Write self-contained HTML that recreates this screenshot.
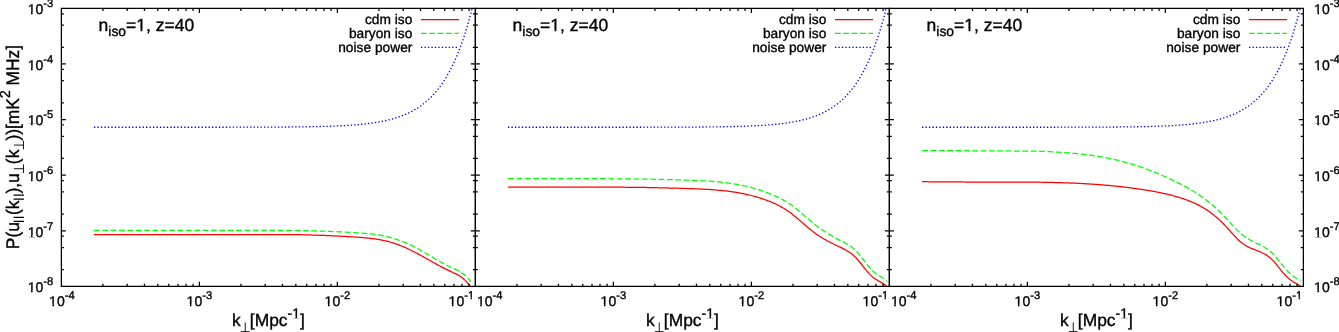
<!DOCTYPE html>
<html><head><meta charset="utf-8"><title>plot</title>
<style>html,body{margin:0;padding:0;background:#fff;overflow:hidden;}svg{display:block;will-change:transform;}text{font-family:"Liberation Sans",sans-serif;fill:#000;stroke:#000;stroke-width:0.35px;text-rendering:geometricPrecision;}</style>
</head><body>
<svg width="1339" height="332" viewBox="0 0 1339 332">
<rect width="1339" height="332" fill="#fff"/>
<clipPath id="c0"><rect x="61.37" y="8.4" width="414.00" height="277.96"/></clipPath>
<g clip-path="url(#c0)" fill="none" stroke-linejoin="round">
<path d="M93.90,234.60L94.90,234.60L95.90,234.60L96.90,234.60L97.90,234.60L98.90,234.60L99.90,234.60L100.90,234.60L101.90,234.60L102.90,234.60L103.90,234.60L104.90,234.60L105.90,234.60L106.90,234.60L107.90,234.60L108.90,234.60L109.90,234.60L110.90,234.60L111.90,234.60L112.90,234.60L113.90,234.60L114.90,234.60L115.90,234.60L116.90,234.60L117.90,234.60L118.90,234.60L119.90,234.60L120.90,234.60L121.90,234.60L122.90,234.60L123.90,234.60L124.90,234.60L125.90,234.60L126.90,234.60L127.90,234.60L128.90,234.60L129.90,234.60L130.90,234.60L131.90,234.60L132.90,234.60L133.90,234.60L134.90,234.60L135.90,234.60L136.90,234.60L137.90,234.60L138.90,234.60L139.90,234.60L140.90,234.60L141.90,234.60L142.90,234.60L143.90,234.60L144.90,234.60L145.90,234.60L146.90,234.60L147.90,234.60L148.90,234.60L149.90,234.60L150.90,234.60L151.90,234.60L152.90,234.60L153.90,234.60L154.90,234.60L155.90,234.60L156.90,234.60L157.90,234.60L158.90,234.60L159.90,234.60L160.90,234.60L161.90,234.60L162.90,234.60L163.90,234.60L164.90,234.60L165.90,234.60L166.90,234.60L167.90,234.60L168.90,234.60L169.90,234.60L170.90,234.60L171.90,234.60L172.90,234.60L173.90,234.60L174.90,234.60L175.90,234.60L176.90,234.60L177.90,234.60L178.90,234.60L179.90,234.60L180.90,234.60L181.90,234.60L182.90,234.60L183.90,234.60L184.90,234.60L185.90,234.60L186.90,234.60L187.90,234.60L188.90,234.60L189.90,234.60L190.90,234.60L191.90,234.60L192.90,234.60L193.90,234.60L194.90,234.60L195.90,234.60L196.90,234.60L197.90,234.60L198.90,234.60L199.90,234.60L200.90,234.60L201.90,234.60L202.90,234.60L203.90,234.60L204.90,234.60L205.90,234.60L206.90,234.60L207.90,234.60L208.90,234.60L209.90,234.60L210.90,234.60L211.90,234.60L212.90,234.60L213.90,234.60L214.90,234.60L215.90,234.60L216.90,234.60L217.90,234.60L218.90,234.60L219.90,234.60L220.90,234.60L221.90,234.60L222.90,234.60L223.90,234.60L224.90,234.61L225.90,234.61L226.90,234.61L227.90,234.61L228.90,234.61L229.90,234.61L230.90,234.61L231.90,234.61L232.90,234.61L233.90,234.61L234.90,234.61L235.90,234.61L236.90,234.61L237.90,234.61L238.90,234.61L239.90,234.61L240.90,234.61L241.90,234.62L242.90,234.62L243.90,234.62L244.90,234.62L245.90,234.62L246.90,234.62L247.90,234.62L248.90,234.62L249.90,234.62L250.90,234.62L251.90,234.63L252.90,234.63L253.90,234.63L254.90,234.63L255.90,234.63L256.90,234.63L257.90,234.63L258.90,234.63L259.90,234.64L260.90,234.64L261.90,234.64L262.90,234.64L263.90,234.64L264.90,234.64L265.90,234.64L266.90,234.65L267.90,234.65L268.90,234.65L269.90,234.65L270.90,234.65L271.90,234.65L272.90,234.66L273.90,234.66L274.90,234.66L275.90,234.66L276.90,234.66L277.90,234.66L278.90,234.67L279.90,234.67L280.90,234.67L281.90,234.67L282.90,234.68L283.90,234.68L284.90,234.68L285.90,234.68L286.90,234.68L287.90,234.69L288.90,234.69L289.90,234.69L290.90,234.69L291.90,234.70L292.90,234.70L293.90,234.70L294.90,234.70L295.90,234.71L296.90,234.71L297.90,234.71L298.90,234.72L299.90,234.72L300.90,234.72L301.90,234.73L302.90,234.75L303.90,234.76L304.90,234.79L305.90,234.81L306.90,234.84L307.90,234.87L308.90,234.90L309.90,234.93L310.90,234.97L311.90,235.01L312.90,235.04L313.90,235.08L314.90,235.12L315.90,235.15L316.90,235.19L317.90,235.22L318.90,235.26L319.90,235.29L320.90,235.33L321.90,235.37L322.90,235.40L323.90,235.44L324.90,235.48L325.90,235.52L326.90,235.56L327.90,235.61L328.90,235.65L329.90,235.69L330.90,235.74L331.90,235.78L332.90,235.83L333.90,235.87L334.90,235.92L335.90,235.97L336.90,236.01L337.90,236.06L338.90,236.11L339.90,236.16L340.90,236.22L341.90,236.27L342.90,236.32L343.90,236.38L344.90,236.43L345.90,236.49L346.90,236.55L347.90,236.61L348.90,236.67L349.90,236.73L350.90,236.79L351.90,236.85L352.90,236.91L353.90,236.97L354.90,237.04L355.90,237.11L356.90,237.17L357.90,237.24L358.90,237.31L359.90,237.38L360.90,237.46L361.90,237.54L362.90,237.62L363.90,237.70L364.90,237.79L365.90,237.88L366.90,237.98L367.90,238.08L368.90,238.19L369.90,238.30L370.90,238.41L371.90,238.54L372.90,238.66L373.90,238.80L374.90,238.94L375.90,239.08L376.90,239.24L377.90,239.40L378.90,239.56L379.90,239.74L380.90,239.92L381.90,240.12L382.90,240.32L383.90,240.53L384.90,240.74L385.90,240.97L386.90,241.21L387.90,241.46L388.90,241.72L389.90,241.99L390.90,242.27L391.90,242.56L392.90,242.86L393.90,243.17L394.90,243.50L395.90,243.84L396.90,244.19L397.90,244.55L398.90,244.92L399.90,245.31L400.90,245.71L401.90,246.11L402.90,246.53L403.90,246.96L404.90,247.40L405.90,247.85L406.90,248.30L407.90,248.77L408.90,249.25L409.90,249.73L410.90,250.22L411.90,250.72L412.90,251.22L413.90,251.74L414.90,252.26L415.90,252.78L416.90,253.31L417.90,253.85L418.90,254.39L419.90,254.93L420.90,255.48L421.90,256.03L422.90,256.58L423.90,257.14L424.90,257.70L425.90,258.26L426.90,258.82L427.90,259.39L428.90,259.95L429.90,260.51L430.90,261.08L431.90,261.64L432.90,262.20L433.90,262.76L434.90,263.32L435.90,263.87L436.90,264.42L437.90,264.97L438.90,265.51L439.90,266.05L440.90,266.59L441.90,267.12L442.90,267.64L443.90,268.16L444.90,268.68L445.90,269.18L446.90,269.68L447.90,270.17L448.90,270.65L449.90,271.13L450.90,271.59L451.90,272.05L452.90,272.51L453.90,272.96L454.90,273.43L455.90,273.92L456.90,274.42L457.90,274.96L458.90,275.53L459.90,276.15L460.90,276.82L461.90,277.54L462.90,278.32L463.90,279.17L464.90,280.10L465.90,281.10L466.90,282.20L467.90,283.39L468.90,284.69L469.90,286.10" stroke="#ff0000" stroke-width="1.25"/>
<path d="M93.90,230.30L94.90,230.30L95.90,230.30L96.90,230.30L97.90,230.30L98.90,230.30L99.90,230.30L100.90,230.30L101.90,230.30L102.90,230.30L103.90,230.30L104.90,230.30L105.90,230.30L106.90,230.30L107.90,230.30L108.90,230.30L109.90,230.30L110.90,230.30L111.90,230.30L112.90,230.30L113.90,230.30L114.90,230.30L115.90,230.30L116.90,230.30L117.90,230.30L118.90,230.30L119.90,230.30L120.90,230.30L121.90,230.30L122.90,230.30L123.90,230.30L124.90,230.30L125.90,230.30L126.90,230.30L127.90,230.30L128.90,230.30L129.90,230.30L130.90,230.31L131.90,230.31L132.90,230.31L133.90,230.31L134.90,230.31L135.90,230.31L136.90,230.31L137.90,230.31L138.90,230.31L139.90,230.31L140.90,230.31L141.90,230.31L142.90,230.31L143.90,230.31L144.90,230.31L145.90,230.31L146.90,230.31L147.90,230.31L148.90,230.31L149.90,230.31L150.90,230.31L151.90,230.31L152.90,230.31L153.90,230.31L154.90,230.31L155.90,230.31L156.90,230.31L157.90,230.31L158.90,230.32L159.90,230.32L160.90,230.32L161.90,230.32L162.90,230.32L163.90,230.32L164.90,230.32L165.90,230.32L166.90,230.32L167.90,230.32L168.90,230.32L169.90,230.32L170.90,230.32L171.90,230.32L172.90,230.32L173.90,230.32L174.90,230.32L175.90,230.32L176.90,230.32L177.90,230.32L178.90,230.33L179.90,230.33L180.90,230.33L181.90,230.33L182.90,230.33L183.90,230.33L184.90,230.33L185.90,230.33L186.90,230.33L187.90,230.33L188.90,230.33L189.90,230.33L190.90,230.33L191.90,230.33L192.90,230.33L193.90,230.33L194.90,230.33L195.90,230.33L196.90,230.34L197.90,230.34L198.90,230.34L199.90,230.34L200.90,230.34L201.90,230.34L202.90,230.34L203.90,230.34L204.90,230.34L205.90,230.34L206.90,230.34L207.90,230.34L208.90,230.34L209.90,230.34L210.90,230.34L211.90,230.34L212.90,230.35L213.90,230.35L214.90,230.35L215.90,230.35L216.90,230.35L217.90,230.35L218.90,230.35L219.90,230.35L220.90,230.35L221.90,230.35L222.90,230.35L223.90,230.35L224.90,230.35L225.90,230.36L226.90,230.36L227.90,230.36L228.90,230.36L229.90,230.36L230.90,230.36L231.90,230.36L232.90,230.36L233.90,230.36L234.90,230.36L235.90,230.37L236.90,230.37L237.90,230.37L238.90,230.37L239.90,230.37L240.90,230.37L241.90,230.37L242.90,230.37L243.90,230.38L244.90,230.38L245.90,230.38L246.90,230.38L247.90,230.38L248.90,230.38L249.90,230.38L250.90,230.39L251.90,230.39L252.90,230.39L253.90,230.39L254.90,230.39L255.90,230.40L256.90,230.40L257.90,230.40L258.90,230.40L259.90,230.40L260.90,230.41L261.90,230.41L262.90,230.41L263.90,230.41L264.90,230.41L265.90,230.42L266.90,230.42L267.90,230.42L268.90,230.42L269.90,230.43L270.90,230.43L271.90,230.43L272.90,230.43L273.90,230.44L274.90,230.44L275.90,230.44L276.90,230.45L277.90,230.45L278.90,230.45L279.90,230.45L280.90,230.46L281.90,230.46L282.90,230.46L283.90,230.47L284.90,230.47L285.90,230.47L286.90,230.48L287.90,230.48L288.90,230.48L289.90,230.49L290.90,230.49L291.90,230.50L292.90,230.50L293.90,230.50L294.90,230.51L295.90,230.51L296.90,230.52L297.90,230.52L298.90,230.53L299.90,230.53L300.90,230.54L301.90,230.55L302.90,230.56L303.90,230.58L304.90,230.60L305.90,230.62L306.90,230.65L307.90,230.67L308.90,230.70L309.90,230.73L310.90,230.77L311.90,230.80L312.90,230.83L313.90,230.87L314.90,230.90L315.90,230.93L316.90,230.97L317.90,231.00L318.90,231.03L319.90,231.06L320.90,231.10L321.90,231.13L322.90,231.16L323.90,231.20L324.90,231.24L325.90,231.27L326.90,231.31L327.90,231.35L328.90,231.39L329.90,231.43L330.90,231.47L331.90,231.51L332.90,231.55L333.90,231.59L334.90,231.64L335.90,231.68L336.90,231.72L337.90,231.77L338.90,231.82L339.90,231.86L340.90,231.91L341.90,231.96L342.90,232.01L343.90,232.06L344.90,232.11L345.90,232.16L346.90,232.21L347.90,232.27L348.90,232.32L349.90,232.38L350.90,232.43L351.90,232.49L352.90,232.55L353.90,232.60L354.90,232.66L355.90,232.72L356.90,232.78L357.90,232.85L358.90,232.91L359.90,232.98L360.90,233.05L361.90,233.12L362.90,233.20L363.90,233.28L364.90,233.36L365.90,233.44L366.90,233.53L367.90,233.63L368.90,233.73L369.90,233.83L370.90,233.94L371.90,234.06L372.90,234.18L373.90,234.31L374.90,234.44L375.90,234.58L376.90,234.73L377.90,234.88L378.90,235.04L379.90,235.21L380.90,235.39L381.90,235.58L382.90,235.77L383.90,235.98L384.90,236.19L385.90,236.41L386.90,236.65L387.90,236.89L388.90,237.14L389.90,237.41L390.90,237.68L391.90,237.97L392.90,238.26L393.90,238.57L394.90,238.88L395.90,239.21L396.90,239.54L397.90,239.88L398.90,240.23L399.90,240.59L400.90,240.96L401.90,241.34L402.90,241.73L403.90,242.12L404.90,242.53L405.90,242.95L406.90,243.37L407.90,243.81L408.90,244.26L409.90,244.72L410.90,245.19L411.90,245.67L412.90,246.16L413.90,246.67L414.90,247.18L415.90,247.70L416.90,248.23L417.90,248.77L418.90,249.32L419.90,249.87L420.90,250.43L421.90,251.00L422.90,251.57L423.90,252.14L424.90,252.72L425.90,253.30L426.90,253.89L427.90,254.48L428.90,255.07L429.90,255.66L430.90,256.25L431.90,256.84L432.90,257.43L433.90,258.02L434.90,258.60L435.90,259.19L436.90,259.77L437.90,260.35L438.90,260.92L439.90,261.49L440.90,262.05L441.90,262.60L442.90,263.15L443.90,263.70L444.90,264.23L445.90,264.76L446.90,265.27L447.90,265.78L448.90,266.28L449.90,266.76L450.90,267.24L451.90,267.70L452.90,268.16L453.90,268.61L454.90,269.07L455.90,269.55L456.90,270.04L457.90,270.55L458.90,271.09L459.90,271.66L460.90,272.28L461.90,272.93L462.90,273.64L463.90,274.41L464.90,275.24L465.90,276.14L466.90,277.11L467.90,278.17L468.90,279.30L469.90,280.53L470.70,281.59" stroke="#00ff00" stroke-width="1.25" stroke-dasharray="5.8 2.56"/>
<path d="M93.97,127.26L94.97,127.26L95.97,127.26L96.97,127.26L97.97,127.26L98.97,127.26L99.97,127.26L100.97,127.26L101.97,127.26L102.97,127.26L103.97,127.26L104.97,127.26L105.97,127.26L106.97,127.26L107.97,127.26L108.97,127.26L109.97,127.26L110.97,127.26L111.97,127.26L112.97,127.26L113.97,127.26L114.97,127.26L115.97,127.26L116.97,127.26L117.97,127.26L118.97,127.26L119.97,127.26L120.97,127.26L121.97,127.26L122.97,127.26L123.97,127.26L124.97,127.26L125.97,127.26L126.97,127.26L127.97,127.26L128.97,127.26L129.97,127.26L130.97,127.26L131.97,127.26L132.97,127.26L133.97,127.26L134.97,127.26L135.97,127.26L136.97,127.26L137.97,127.26L138.97,127.26L139.97,127.26L140.97,127.26L141.97,127.26L142.97,127.26L143.97,127.26L144.97,127.26L145.97,127.26L146.97,127.26L147.97,127.26L148.97,127.26L149.97,127.26L150.97,127.26L151.97,127.26L152.97,127.26L153.97,127.26L154.97,127.26L155.97,127.26L156.97,127.26L157.97,127.26L158.97,127.26L159.97,127.26L160.97,127.26L161.97,127.26L162.97,127.26L163.97,127.26L164.97,127.26L165.97,127.26L166.97,127.26L167.97,127.26L168.97,127.26L169.97,127.26L170.97,127.26L171.97,127.26L172.97,127.26L173.97,127.26L174.97,127.26L175.97,127.26L176.97,127.26L177.97,127.26L178.97,127.25L179.97,127.25L180.97,127.25L181.97,127.25L182.97,127.25L183.97,127.25L184.97,127.25L185.97,127.25L186.97,127.25L187.97,127.25L188.97,127.25L189.97,127.25L190.97,127.25L191.97,127.25L192.97,127.25L193.97,127.25L194.97,127.25L195.97,127.25L196.97,127.25L197.97,127.25L198.97,127.25L199.97,127.25L200.97,127.25L201.97,127.25L202.97,127.25L203.97,127.25L204.97,127.25L205.97,127.25L206.97,127.24L207.97,127.24L208.97,127.24L209.97,127.24L210.97,127.24L211.97,127.24L212.97,127.24L213.97,127.24L214.97,127.24L215.97,127.24L216.97,127.24L217.97,127.24L218.97,127.24L219.97,127.24L220.97,127.23L221.97,127.23L222.97,127.23L223.97,127.23L224.97,127.23L225.97,127.23L226.97,127.23L227.97,127.23L228.97,127.23L229.97,127.22L230.97,127.22L231.97,127.22L232.97,127.22L233.97,127.22L234.97,127.22L235.97,127.22L236.97,127.22L237.97,127.21L238.97,127.21L239.97,127.21L240.97,127.21L241.97,127.21L242.97,127.20L243.97,127.20L244.97,127.20L245.97,127.20L246.97,127.20L247.97,127.19L248.97,127.19L249.97,127.19L250.97,127.19L251.97,127.19L252.97,127.18L253.97,127.18L254.97,127.18L255.97,127.17L256.97,127.17L257.97,127.17L258.97,127.16L259.97,127.16L260.97,127.16L261.97,127.15L262.97,127.15L263.97,127.15L264.97,127.14L265.97,127.14L266.97,127.14L267.97,127.13L268.97,127.13L269.97,127.12L270.97,127.12L271.97,127.11L272.97,127.11L273.97,127.10L274.97,127.10L275.97,127.09L276.97,127.09L277.97,127.08L278.97,127.07L279.97,127.07L280.97,127.06L281.97,127.05L282.97,127.05L283.97,127.04L284.97,127.03L285.97,127.02L286.97,127.02L287.97,127.01L288.97,127.00L289.97,126.99L290.97,126.98L291.97,126.97L292.97,126.96L293.97,126.95L294.97,126.94L295.97,126.93L296.97,126.92L297.97,126.91L298.97,126.89L299.97,126.88L300.97,126.87L301.97,126.86L302.97,126.84L303.97,126.83L304.97,126.81L305.97,126.80L306.97,126.78L307.97,126.77L308.97,126.75L309.97,126.73L310.97,126.71L311.97,126.69L312.97,126.68L313.97,126.66L314.97,126.63L315.97,126.61L316.97,126.59L317.97,126.57L318.97,126.55L319.97,126.52L320.97,126.50L321.97,126.47L322.97,126.44L323.97,126.41L324.97,126.39L325.97,126.36L326.97,126.33L327.97,126.29L328.97,126.26L329.97,126.23L330.97,126.19L331.97,126.16L332.97,126.12L333.97,126.08L334.97,126.04L335.97,126.00L336.97,125.96L337.97,125.91L338.97,125.86L339.97,125.82L340.97,125.77L341.97,125.72L342.97,125.67L343.97,125.61L344.97,125.56L345.97,125.50L346.97,125.44L347.97,125.38L348.97,125.31L349.97,125.25L350.97,125.18L351.97,125.11L352.97,125.03L353.97,124.96L354.97,124.88L355.97,124.80L356.97,124.71L357.97,124.63L358.97,124.54L359.97,124.45L360.97,124.35L361.97,124.25L362.97,124.15L363.97,124.04L364.97,123.94L365.97,123.82L366.97,123.71L367.97,123.59L368.97,123.46L369.97,123.33L370.97,123.20L371.97,123.06L372.97,122.92L373.97,122.77L374.97,122.62L375.97,122.46L376.97,122.30L377.97,122.13L378.97,121.95L379.97,121.77L380.97,121.59L381.97,121.40L382.97,121.20L383.97,120.99L384.97,120.78L385.97,120.56L386.97,120.33L387.97,120.10L388.97,119.85L389.97,119.60L390.97,119.34L391.97,119.07L392.97,118.79L393.97,118.51L394.97,118.21L395.97,117.90L396.97,117.59L397.97,117.26L398.97,116.92L399.97,116.57L400.97,116.20L401.97,115.83L402.97,115.44L403.97,115.04L404.97,114.62L405.97,114.20L406.97,113.75L407.97,113.29L408.97,112.82L409.97,112.33L410.97,111.82L411.97,111.30L412.97,110.76L413.97,110.20L414.97,109.62L415.97,109.02L416.97,108.40L417.97,107.76L418.97,107.10L419.97,106.41L420.97,105.71L421.97,104.98L422.97,104.22L423.97,103.44L424.97,102.63L425.97,101.79L426.97,100.93L427.97,100.04L428.97,99.11L429.97,98.16L430.97,97.17L431.97,96.15L432.97,95.09L433.97,94.00L434.97,92.87L435.97,91.70L436.97,90.50L437.97,89.25L438.97,87.96L439.97,86.63L440.97,85.25L441.97,83.82L442.97,82.35L443.97,80.82L444.97,79.25L445.97,77.62L446.97,75.93L447.97,74.19L448.97,72.39L449.97,70.53L450.97,68.60L451.97,66.61L452.97,64.56L453.97,62.43L454.97,60.23L455.97,57.95L456.97,55.60L457.97,53.17L458.97,50.66L459.97,48.06L460.97,45.37L461.97,42.59L462.97,39.72L463.97,36.75L464.97,33.67L465.97,30.50L466.97,27.22L467.97,23.82L468.97,20.31L469.97,16.68L470.97,12.93L471.97,9.05L472.13,8.40" stroke="#0000ff" stroke-width="1.3" stroke-dasharray="1.35 2.12"/>
</g>
<path d="M61.37,8.40H475.37V286.36H61.37ZM102.91,286.36v-2.5M102.91,8.40v2.5M127.21,286.36v-2.5M127.21,8.40v2.5M144.45,286.36v-2.5M144.45,8.40v2.5M157.83,286.36v-2.5M157.83,8.40v2.5M168.75,286.36v-2.5M168.75,8.40v2.5M177.99,286.36v-2.5M177.99,8.40v2.5M186.00,286.36v-2.5M186.00,8.40v2.5M193.06,286.36v-2.5M193.06,8.40v2.5M199.37,286.36v-4.5M199.37,8.40v4.5M240.91,286.36v-2.5M240.91,8.40v2.5M265.21,286.36v-2.5M265.21,8.40v2.5M282.45,286.36v-2.5M282.45,8.40v2.5M295.83,286.36v-2.5M295.83,8.40v2.5M306.75,286.36v-2.5M306.75,8.40v2.5M315.99,286.36v-2.5M315.99,8.40v2.5M324.00,286.36v-2.5M324.00,8.40v2.5M331.06,286.36v-2.5M331.06,8.40v2.5M337.37,286.36v-4.5M337.37,8.40v4.5M378.91,286.36v-2.5M378.91,8.40v2.5M403.21,286.36v-2.5M403.21,8.40v2.5M420.45,286.36v-2.5M420.45,8.40v2.5M433.83,286.36v-2.5M433.83,8.40v2.5M444.75,286.36v-2.5M444.75,8.40v2.5M453.99,286.36v-2.5M453.99,8.40v2.5M462.00,286.36v-2.5M462.00,8.40v2.5M469.06,286.36v-2.5M469.06,8.40v2.5M61.37,47.26h2.5M475.37,47.26h-2.5M61.37,25.13h2.5M475.37,25.13h-2.5M61.37,13.79h2.5M475.37,13.79h-2.5M61.37,63.99h4.5M475.37,63.99h-4.5M61.37,102.85h2.5M475.37,102.85h-2.5M61.37,80.73h2.5M475.37,80.73h-2.5M61.37,69.38h2.5M475.37,69.38h-2.5M61.37,119.58h4.5M475.37,119.58h-4.5M61.37,158.44h2.5M475.37,158.44h-2.5M61.37,136.32h2.5M475.37,136.32h-2.5M61.37,124.97h2.5M475.37,124.97h-2.5M61.37,175.18h4.5M475.37,175.18h-4.5M61.37,214.03h2.5M475.37,214.03h-2.5M61.37,191.91h2.5M475.37,191.91h-2.5M61.37,180.56h2.5M475.37,180.56h-2.5M61.37,230.77h4.5M475.37,230.77h-4.5M61.37,269.63h2.5M475.37,269.63h-2.5M61.37,247.50h2.5M475.37,247.50h-2.5M61.37,236.16h2.5M475.37,236.16h-2.5" fill="none" stroke="#000" stroke-width="1.25"/>
<g transform="translate(412.37,24.10) scale(1.0,1)"><text text-anchor="end" font-size="13.75">cdm iso</text></g>
<path d="M420.97,19.55H458.97" stroke="#ff0000" stroke-width="1.3" fill="none"/>
<g transform="translate(412.37,38.00) scale(1.0,1)"><text text-anchor="end" font-size="13.75">baryon iso</text></g>
<path d="M420.97,33.45H458.97" stroke="#00ff00" stroke-width="1.3" fill="none" stroke-dasharray="5.8 2.56"/>
<g transform="translate(412.37,51.90) scale(1.0,1)"><text text-anchor="end" font-size="13.75">noise power</text></g>
<path d="M420.97,47.35H458.97" stroke="#0000ff" stroke-width="1.3" fill="none" stroke-dasharray="1.35 2.12"/>
<g transform="translate(98.57,30.85) scale(1.0,1)"><text font-size="17.5">n<tspan dy="4.70" font-size="13.92">iso</tspan><tspan dy="-4.70">=1, z=40</tspan></text></g>
<g transform="translate(61.87,306.00) scale(1.0,1)"><text x="-12.77" y="0" font-size="14.0">10<tspan dy="-7.00" font-size="11.20">-4</tspan></text></g>
<g transform="translate(199.37,306.00) scale(1.0,1)"><text x="-12.77" y="0" font-size="14.0">10<tspan dy="-7.00" font-size="11.20">-3</tspan></text></g>
<g transform="translate(337.37,306.00) scale(1.0,1)"><text x="-12.77" y="0" font-size="14.0">10<tspan dy="-7.00" font-size="11.20">-2</tspan></text></g>
<g transform="translate(461.37,306.00) scale(1.0,1)"><text x="-12.77" y="0" font-size="14.0">10<tspan dy="-7.00" font-size="11.20">-1</tspan></text></g>
<g transform="translate(268.37,326.4) scale(1.0,1)"><text x="-36.39" font-size="17.4">k</text><path d="M-27.41,5.22h8.60M-23.11,5.22v-9.19" stroke="#000" stroke-width="0.90" fill="none"/><text x="-18.53" font-size="17.4">[Mpc<tspan dy="-8.70" font-size="13.92">-1</tspan><tspan dy="8.70">]</tspan></text></g>
<clipPath id="c1"><rect x="475.37" y="8.4" width="414.00" height="277.96"/></clipPath>
<g clip-path="url(#c1)" fill="none" stroke-linejoin="round">
<path d="M508.10,187.00L509.10,187.00L510.10,187.00L511.10,187.00L512.10,187.00L513.10,187.00L514.10,187.00L515.10,187.00L516.10,187.00L517.10,187.00L518.10,187.00L519.10,187.00L520.10,187.00L521.10,187.00L522.10,187.00L523.10,187.00L524.10,187.00L525.10,187.00L526.10,187.00L527.10,187.00L528.10,187.00L529.10,187.00L530.10,187.00L531.10,187.00L532.10,187.00L533.10,187.00L534.10,187.00L535.10,187.00L536.10,187.00L537.10,187.00L538.10,187.00L539.10,187.00L540.10,187.00L541.10,187.00L542.10,187.00L543.10,187.00L544.10,187.00L545.10,187.00L546.10,187.00L547.10,187.00L548.10,187.00L549.10,187.00L550.10,187.00L551.10,187.00L552.10,187.00L553.10,187.00L554.10,187.00L555.10,187.00L556.10,187.00L557.10,187.00L558.10,187.00L559.10,187.00L560.10,187.00L561.10,187.00L562.10,187.00L563.10,187.00L564.10,187.00L565.10,187.00L566.10,187.00L567.10,187.00L568.10,187.00L569.10,187.00L570.10,187.00L571.10,187.00L572.10,187.00L573.10,187.00L574.10,187.00L575.10,187.00L576.10,187.00L577.10,187.00L578.10,187.00L579.10,187.00L580.10,187.00L581.10,187.00L582.10,187.00L583.10,187.00L584.10,187.00L585.10,187.00L586.10,187.01L587.10,187.01L588.10,187.01L589.10,187.01L590.10,187.02L591.10,187.02L592.10,187.02L593.10,187.03L594.10,187.03L595.10,187.03L596.10,187.04L597.10,187.04L598.10,187.05L599.10,187.05L600.10,187.06L601.10,187.06L602.10,187.07L603.10,187.08L604.10,187.08L605.10,187.09L606.10,187.09L607.10,187.10L608.10,187.11L609.10,187.12L610.10,187.12L611.10,187.13L612.10,187.14L613.10,187.15L614.10,187.15L615.10,187.16L616.10,187.17L617.10,187.18L618.10,187.19L619.10,187.20L620.10,187.20L621.10,187.21L622.10,187.22L623.10,187.23L624.10,187.24L625.10,187.25L626.10,187.26L627.10,187.27L628.10,187.28L629.10,187.29L630.10,187.30L631.10,187.31L632.10,187.32L633.10,187.33L634.10,187.34L635.10,187.35L636.10,187.36L637.10,187.37L638.10,187.38L639.10,187.40L640.10,187.41L641.10,187.42L642.10,187.43L643.10,187.44L644.10,187.46L645.10,187.48L646.10,187.49L647.10,187.51L648.10,187.53L649.10,187.55L650.10,187.57L651.10,187.59L652.10,187.61L653.10,187.63L654.10,187.65L655.10,187.68L656.10,187.70L657.10,187.72L658.10,187.75L659.10,187.77L660.10,187.79L661.10,187.82L662.10,187.84L663.10,187.87L664.10,187.89L665.10,187.91L666.10,187.94L667.10,187.96L668.10,187.99L669.10,188.01L670.10,188.04L671.10,188.06L672.10,188.09L673.10,188.11L674.10,188.14L675.10,188.17L676.10,188.20L677.10,188.23L678.10,188.25L679.10,188.28L680.10,188.31L681.10,188.34L682.10,188.38L683.10,188.41L684.10,188.44L685.10,188.47L686.10,188.50L687.10,188.54L688.10,188.57L689.10,188.60L690.10,188.64L691.10,188.67L692.10,188.70L693.10,188.74L694.10,188.78L695.10,188.81L696.10,188.85L697.10,188.89L698.10,188.93L699.10,188.97L700.10,189.02L701.10,189.06L702.10,189.11L703.10,189.16L704.10,189.21L705.10,189.26L706.10,189.32L707.10,189.37L708.10,189.43L709.10,189.49L710.10,189.56L711.10,189.62L712.10,189.69L713.10,189.76L714.10,189.84L715.10,189.92L716.10,190.00L717.10,190.08L718.10,190.17L719.10,190.26L720.10,190.35L721.10,190.45L722.10,190.55L723.10,190.65L724.10,190.76L725.10,190.87L726.10,190.99L727.10,191.11L728.10,191.24L729.10,191.36L730.10,191.50L731.10,191.64L732.10,191.78L733.10,191.93L734.10,192.08L735.10,192.23L736.10,192.40L737.10,192.56L738.10,192.74L739.10,192.91L740.10,193.10L741.10,193.28L742.10,193.48L743.10,193.68L744.10,193.88L745.10,194.10L746.10,194.31L747.10,194.54L748.10,194.77L749.10,195.00L750.10,195.24L751.10,195.49L752.10,195.75L753.10,196.01L754.10,196.28L755.10,196.56L756.10,196.84L757.10,197.13L758.10,197.43L759.10,197.73L760.10,198.04L761.10,198.36L762.10,198.69L763.10,199.02L764.10,199.37L765.10,199.72L766.10,200.08L767.10,200.45L768.10,200.83L769.10,201.22L770.10,201.62L771.10,202.04L772.10,202.46L773.10,202.89L774.10,203.34L775.10,203.80L776.10,204.27L777.10,204.76L778.10,205.26L779.10,205.77L780.10,206.30L781.10,206.84L782.10,207.40L783.10,207.97L784.10,208.57L785.10,209.18L786.10,209.82L787.10,210.48L788.10,211.16L789.10,211.86L790.10,212.59L791.10,213.34L792.10,214.11L793.10,214.89L794.10,215.69L795.10,216.50L796.10,217.33L797.10,218.17L798.10,219.02L799.10,219.87L800.10,220.73L801.10,221.60L802.10,222.46L803.10,223.33L804.10,224.19L805.10,225.06L806.10,225.92L807.10,226.77L808.10,227.61L809.10,228.45L810.10,229.27L811.10,230.09L812.10,230.88L813.10,231.66L814.10,232.43L815.10,233.17L816.10,233.89L817.10,234.59L818.10,235.27L819.10,235.94L820.10,236.58L821.10,237.21L822.10,237.83L823.10,238.42L824.10,239.01L825.10,239.58L826.10,240.14L827.10,240.69L828.10,241.22L829.10,241.75L830.10,242.27L831.10,242.78L832.10,243.28L833.10,243.78L834.10,244.27L835.10,244.76L836.10,245.25L837.10,245.73L838.10,246.21L839.10,246.70L840.10,247.18L841.10,247.66L842.10,248.15L843.10,248.65L844.10,249.16L845.10,249.70L846.10,250.25L847.10,250.83L848.10,251.44L849.10,252.09L850.10,252.77L851.10,253.50L852.10,254.27L853.10,255.10L854.10,255.98L855.10,256.92L856.10,257.92L857.10,258.99L858.10,260.12L859.10,261.29L860.10,262.51L861.10,263.76L862.10,265.02L863.10,266.30L864.10,267.57L865.10,268.84L866.10,270.08L867.10,271.29L868.10,272.46L869.10,273.59L870.10,274.65L871.10,275.64L872.10,276.55L873.10,277.38L874.10,278.13L875.10,278.82L876.10,279.45L877.10,280.06L878.10,280.64L879.10,281.20L880.10,281.77L881.10,282.35L882.10,282.96L883.10,283.61L884.10,284.31L885.10,285.07L886.10,285.92L886.30,286.10" stroke="#ff0000" stroke-width="1.25"/>
<path d="M508.10,178.60L509.10,178.60L510.10,178.60L511.10,178.60L512.10,178.60L513.10,178.60L514.10,178.60L515.10,178.60L516.10,178.60L517.10,178.60L518.10,178.60L519.10,178.60L520.10,178.60L521.10,178.60L522.10,178.60L523.10,178.60L524.10,178.60L525.10,178.60L526.10,178.60L527.10,178.60L528.10,178.60L529.10,178.60L530.10,178.60L531.10,178.60L532.10,178.60L533.10,178.60L534.10,178.60L535.10,178.60L536.10,178.60L537.10,178.60L538.10,178.60L539.10,178.60L540.10,178.60L541.10,178.60L542.10,178.60L543.10,178.60L544.10,178.60L545.10,178.60L546.10,178.60L547.10,178.60L548.10,178.60L549.10,178.60L550.10,178.60L551.10,178.60L552.10,178.60L553.10,178.60L554.10,178.60L555.10,178.60L556.10,178.60L557.10,178.60L558.10,178.60L559.10,178.60L560.10,178.60L561.10,178.60L562.10,178.60L563.10,178.60L564.10,178.60L565.10,178.60L566.10,178.60L567.10,178.60L568.10,178.60L569.10,178.60L570.10,178.60L571.10,178.60L572.10,178.60L573.10,178.60L574.10,178.60L575.10,178.60L576.10,178.60L577.10,178.60L578.10,178.60L579.10,178.60L580.10,178.60L581.10,178.60L582.10,178.60L583.10,178.60L584.10,178.60L585.10,178.61L586.10,178.61L587.10,178.61L588.10,178.61L589.10,178.61L590.10,178.62L591.10,178.62L592.10,178.63L593.10,178.63L594.10,178.63L595.10,178.64L596.10,178.64L597.10,178.65L598.10,178.65L599.10,178.66L600.10,178.67L601.10,178.67L602.10,178.68L603.10,178.69L604.10,178.69L605.10,178.70L606.10,178.71L607.10,178.71L608.10,178.72L609.10,178.73L610.10,178.74L611.10,178.75L612.10,178.76L613.10,178.77L614.10,178.77L615.10,178.78L616.10,178.79L617.10,178.80L618.10,178.81L619.10,178.82L620.10,178.83L621.10,178.84L622.10,178.85L623.10,178.86L624.10,178.87L625.10,178.88L626.10,178.89L627.10,178.91L628.10,178.92L629.10,178.93L630.10,178.94L631.10,178.95L632.10,178.96L633.10,178.97L634.10,178.98L635.10,179.00L636.10,179.01L637.10,179.02L638.10,179.03L639.10,179.04L640.10,179.05L641.10,179.07L642.10,179.08L643.10,179.09L644.10,179.10L645.10,179.12L646.10,179.13L647.10,179.15L648.10,179.17L649.10,179.19L650.10,179.21L651.10,179.22L652.10,179.24L653.10,179.27L654.10,179.29L655.10,179.31L656.10,179.33L657.10,179.35L658.10,179.37L659.10,179.40L660.10,179.42L661.10,179.44L662.10,179.47L663.10,179.49L664.10,179.51L665.10,179.54L666.10,179.56L667.10,179.59L668.10,179.61L669.10,179.63L670.10,179.66L671.10,179.69L672.10,179.71L673.10,179.74L674.10,179.77L675.10,179.79L676.10,179.82L677.10,179.85L678.10,179.88L679.10,179.91L680.10,179.94L681.10,179.97L682.10,180.00L683.10,180.03L684.10,180.07L685.10,180.10L686.10,180.13L687.10,180.17L688.10,180.20L689.10,180.24L690.10,180.27L691.10,180.31L692.10,180.34L693.10,180.38L694.10,180.42L695.10,180.45L696.10,180.49L697.10,180.54L698.10,180.58L699.10,180.62L700.10,180.67L701.10,180.72L702.10,180.76L703.10,180.82L704.10,180.87L705.10,180.92L706.10,180.98L707.10,181.04L708.10,181.10L709.10,181.17L710.10,181.23L711.10,181.30L712.10,181.38L713.10,181.45L714.10,181.53L715.10,181.61L716.10,181.69L717.10,181.78L718.10,181.87L719.10,181.97L720.10,182.07L721.10,182.17L722.10,182.28L723.10,182.38L724.10,182.50L725.10,182.62L726.10,182.74L727.10,182.87L728.10,183.00L729.10,183.13L730.10,183.27L731.10,183.42L732.10,183.57L733.10,183.72L734.10,183.88L735.10,184.05L736.10,184.22L737.10,184.39L738.10,184.57L739.10,184.76L740.10,184.95L741.10,185.15L742.10,185.35L743.10,185.56L744.10,185.78L745.10,186.00L746.10,186.23L747.10,186.46L748.10,186.70L749.10,186.95L750.10,187.20L751.10,187.46L752.10,187.73L753.10,188.00L754.10,188.29L755.10,188.58L756.10,188.87L757.10,189.17L758.10,189.49L759.10,189.80L760.10,190.13L761.10,190.46L762.10,190.81L763.10,191.16L764.10,191.51L765.10,191.88L766.10,192.25L767.10,192.64L768.10,193.03L769.10,193.42L770.10,193.83L771.10,194.24L772.10,194.67L773.10,195.10L774.10,195.54L775.10,195.98L776.10,196.44L777.10,196.91L778.10,197.38L779.10,197.86L780.10,198.35L781.10,198.85L782.10,199.37L783.10,199.89L784.10,200.44L785.10,201.00L786.10,201.59L787.10,202.19L788.10,202.82L789.10,203.47L790.10,204.15L791.10,204.86L792.10,205.58L793.10,206.32L794.10,207.08L795.10,207.86L796.10,208.65L797.10,209.46L798.10,210.28L799.10,211.11L800.10,211.95L801.10,212.80L802.10,213.65L803.10,214.51L804.10,215.37L805.10,216.23L806.10,217.09L807.10,217.95L808.10,218.81L809.10,219.67L810.10,220.51L811.10,221.35L812.10,222.19L813.10,223.01L814.10,223.82L815.10,224.61L816.10,225.39L817.10,226.16L818.10,226.91L819.10,227.65L820.10,228.37L821.10,229.08L822.10,229.78L823.10,230.46L824.10,231.13L825.10,231.79L826.10,232.44L827.10,233.07L828.10,233.69L829.10,234.30L830.10,234.90L831.10,235.49L832.10,236.07L833.10,236.64L834.10,237.20L835.10,237.75L836.10,238.29L837.10,238.82L838.10,239.35L839.10,239.86L840.10,240.37L841.10,240.87L842.10,241.37L843.10,241.87L844.10,242.37L845.10,242.89L846.10,243.43L847.10,243.99L848.10,244.58L849.10,245.20L850.10,245.86L851.10,246.56L852.10,247.31L853.10,248.12L854.10,248.98L855.10,249.90L856.10,250.89L857.10,251.96L858.10,253.08L859.10,254.26L860.10,255.49L861.10,256.76L862.10,258.04L863.10,259.35L864.10,260.66L865.10,261.97L866.10,263.27L867.10,264.54L868.10,265.78L869.10,266.98L870.10,268.13L871.10,269.22L872.10,270.23L873.10,271.17L874.10,272.04L875.10,272.85L876.10,273.60L877.10,274.30L878.10,274.97L879.10,275.61L880.10,276.23L881.10,276.83L882.10,277.42L883.10,278.02L884.10,278.63L885.10,279.26L886.10,279.92L886.80,280.40" stroke="#00ff00" stroke-width="1.25" stroke-dasharray="5.8 2.56"/>
<path d="M507.97,127.26L508.97,127.26L509.97,127.26L510.97,127.26L511.97,127.26L512.97,127.26L513.97,127.26L514.97,127.26L515.97,127.26L516.97,127.26L517.97,127.26L518.97,127.26L519.97,127.26L520.97,127.26L521.97,127.26L522.97,127.26L523.97,127.26L524.97,127.26L525.97,127.26L526.97,127.26L527.97,127.26L528.97,127.26L529.97,127.26L530.97,127.26L531.97,127.26L532.97,127.26L533.97,127.26L534.97,127.26L535.97,127.26L536.97,127.26L537.97,127.26L538.97,127.26L539.97,127.26L540.97,127.26L541.97,127.26L542.97,127.26L543.97,127.26L544.97,127.26L545.97,127.26L546.97,127.26L547.97,127.26L548.97,127.26L549.97,127.26L550.97,127.26L551.97,127.26L552.97,127.26L553.97,127.26L554.97,127.26L555.97,127.26L556.97,127.26L557.97,127.26L558.97,127.26L559.97,127.26L560.97,127.26L561.97,127.26L562.97,127.26L563.97,127.26L564.97,127.26L565.97,127.26L566.97,127.26L567.97,127.26L568.97,127.26L569.97,127.26L570.97,127.26L571.97,127.26L572.97,127.26L573.97,127.26L574.97,127.26L575.97,127.26L576.97,127.26L577.97,127.26L578.97,127.26L579.97,127.26L580.97,127.26L581.97,127.26L582.97,127.26L583.97,127.26L584.97,127.26L585.97,127.26L586.97,127.26L587.97,127.26L588.97,127.26L589.97,127.26L590.97,127.26L591.97,127.26L592.97,127.25L593.97,127.25L594.97,127.25L595.97,127.25L596.97,127.25L597.97,127.25L598.97,127.25L599.97,127.25L600.97,127.25L601.97,127.25L602.97,127.25L603.97,127.25L604.97,127.25L605.97,127.25L606.97,127.25L607.97,127.25L608.97,127.25L609.97,127.25L610.97,127.25L611.97,127.25L612.97,127.25L613.97,127.25L614.97,127.25L615.97,127.25L616.97,127.25L617.97,127.25L618.97,127.25L619.97,127.25L620.97,127.24L621.97,127.24L622.97,127.24L623.97,127.24L624.97,127.24L625.97,127.24L626.97,127.24L627.97,127.24L628.97,127.24L629.97,127.24L630.97,127.24L631.97,127.24L632.97,127.24L633.97,127.24L634.97,127.23L635.97,127.23L636.97,127.23L637.97,127.23L638.97,127.23L639.97,127.23L640.97,127.23L641.97,127.23L642.97,127.23L643.97,127.22L644.97,127.22L645.97,127.22L646.97,127.22L647.97,127.22L648.97,127.22L649.97,127.22L650.97,127.22L651.97,127.21L652.97,127.21L653.97,127.21L654.97,127.21L655.97,127.21L656.97,127.20L657.97,127.20L658.97,127.20L659.97,127.20L660.97,127.20L661.97,127.19L662.97,127.19L663.97,127.19L664.97,127.19L665.97,127.19L666.97,127.18L667.97,127.18L668.97,127.18L669.97,127.17L670.97,127.17L671.97,127.17L672.97,127.16L673.97,127.16L674.97,127.16L675.97,127.15L676.97,127.15L677.97,127.15L678.97,127.14L679.97,127.14L680.97,127.14L681.97,127.13L682.97,127.13L683.97,127.12L684.97,127.12L685.97,127.11L686.97,127.11L687.97,127.10L688.97,127.10L689.97,127.09L690.97,127.09L691.97,127.08L692.97,127.07L693.97,127.07L694.97,127.06L695.97,127.05L696.97,127.05L697.97,127.04L698.97,127.03L699.97,127.02L700.97,127.02L701.97,127.01L702.97,127.00L703.97,126.99L704.97,126.98L705.97,126.97L706.97,126.96L707.97,126.95L708.97,126.94L709.97,126.93L710.97,126.92L711.97,126.91L712.97,126.89L713.97,126.88L714.97,126.87L715.97,126.86L716.97,126.84L717.97,126.83L718.97,126.81L719.97,126.80L720.97,126.78L721.97,126.77L722.97,126.75L723.97,126.73L724.97,126.71L725.97,126.69L726.97,126.68L727.97,126.66L728.97,126.63L729.97,126.61L730.97,126.59L731.97,126.57L732.97,126.55L733.97,126.52L734.97,126.50L735.97,126.47L736.97,126.44L737.97,126.41L738.97,126.39L739.97,126.36L740.97,126.33L741.97,126.29L742.97,126.26L743.97,126.23L744.97,126.19L745.97,126.16L746.97,126.12L747.97,126.08L748.97,126.04L749.97,126.00L750.97,125.96L751.97,125.91L752.97,125.86L753.97,125.82L754.97,125.77L755.97,125.72L756.97,125.67L757.97,125.61L758.97,125.56L759.97,125.50L760.97,125.44L761.97,125.38L762.97,125.31L763.97,125.25L764.97,125.18L765.97,125.11L766.97,125.03L767.97,124.96L768.97,124.88L769.97,124.80L770.97,124.71L771.97,124.63L772.97,124.54L773.97,124.45L774.97,124.35L775.97,124.25L776.97,124.15L777.97,124.04L778.97,123.94L779.97,123.82L780.97,123.71L781.97,123.59L782.97,123.46L783.97,123.33L784.97,123.20L785.97,123.06L786.97,122.92L787.97,122.77L788.97,122.62L789.97,122.46L790.97,122.30L791.97,122.13L792.97,121.95L793.97,121.77L794.97,121.59L795.97,121.40L796.97,121.20L797.97,120.99L798.97,120.78L799.97,120.56L800.97,120.33L801.97,120.10L802.97,119.85L803.97,119.60L804.97,119.34L805.97,119.07L806.97,118.79L807.97,118.51L808.97,118.21L809.97,117.90L810.97,117.59L811.97,117.26L812.97,116.92L813.97,116.57L814.97,116.20L815.97,115.83L816.97,115.44L817.97,115.04L818.97,114.62L819.97,114.20L820.97,113.75L821.97,113.29L822.97,112.82L823.97,112.33L824.97,111.82L825.97,111.30L826.97,110.76L827.97,110.20L828.97,109.62L829.97,109.02L830.97,108.40L831.97,107.76L832.97,107.10L833.97,106.41L834.97,105.71L835.97,104.98L836.97,104.22L837.97,103.44L838.97,102.63L839.97,101.79L840.97,100.93L841.97,100.04L842.97,99.11L843.97,98.16L844.97,97.17L845.97,96.15L846.97,95.09L847.97,94.00L848.97,92.87L849.97,91.70L850.97,90.50L851.97,89.25L852.97,87.96L853.97,86.63L854.97,85.25L855.97,83.82L856.97,82.35L857.97,80.82L858.97,79.25L859.97,77.62L860.97,75.93L861.97,74.19L862.97,72.39L863.97,70.53L864.97,68.60L865.97,66.61L866.97,64.56L867.97,62.43L868.97,60.23L869.97,57.95L870.97,55.60L871.97,53.17L872.97,50.66L873.97,48.06L874.97,45.37L875.97,42.59L876.97,39.72L877.97,36.75L878.97,33.67L879.97,30.50L880.97,27.22L881.97,23.82L882.97,20.31L883.97,16.68L884.97,12.93L885.97,9.05L886.13,8.40" stroke="#0000ff" stroke-width="1.3" stroke-dasharray="1.35 2.12"/>
</g>
<path d="M475.37,8.40H889.37V286.36H475.37ZM516.91,286.36v-2.5M516.91,8.40v2.5M541.21,286.36v-2.5M541.21,8.40v2.5M558.45,286.36v-2.5M558.45,8.40v2.5M571.83,286.36v-2.5M571.83,8.40v2.5M582.75,286.36v-2.5M582.75,8.40v2.5M591.99,286.36v-2.5M591.99,8.40v2.5M600.00,286.36v-2.5M600.00,8.40v2.5M607.06,286.36v-2.5M607.06,8.40v2.5M613.37,286.36v-4.5M613.37,8.40v4.5M654.91,286.36v-2.5M654.91,8.40v2.5M679.21,286.36v-2.5M679.21,8.40v2.5M696.45,286.36v-2.5M696.45,8.40v2.5M709.83,286.36v-2.5M709.83,8.40v2.5M720.75,286.36v-2.5M720.75,8.40v2.5M729.99,286.36v-2.5M729.99,8.40v2.5M738.00,286.36v-2.5M738.00,8.40v2.5M745.06,286.36v-2.5M745.06,8.40v2.5M751.37,286.36v-4.5M751.37,8.40v4.5M792.91,286.36v-2.5M792.91,8.40v2.5M817.21,286.36v-2.5M817.21,8.40v2.5M834.45,286.36v-2.5M834.45,8.40v2.5M847.83,286.36v-2.5M847.83,8.40v2.5M858.75,286.36v-2.5M858.75,8.40v2.5M867.99,286.36v-2.5M867.99,8.40v2.5M876.00,286.36v-2.5M876.00,8.40v2.5M883.06,286.36v-2.5M883.06,8.40v2.5M475.37,47.26h2.5M889.37,47.26h-2.5M475.37,25.13h2.5M889.37,25.13h-2.5M475.37,13.79h2.5M889.37,13.79h-2.5M475.37,63.99h4.5M889.37,63.99h-4.5M475.37,102.85h2.5M889.37,102.85h-2.5M475.37,80.73h2.5M889.37,80.73h-2.5M475.37,69.38h2.5M889.37,69.38h-2.5M475.37,119.58h4.5M889.37,119.58h-4.5M475.37,158.44h2.5M889.37,158.44h-2.5M475.37,136.32h2.5M889.37,136.32h-2.5M475.37,124.97h2.5M889.37,124.97h-2.5M475.37,175.18h4.5M889.37,175.18h-4.5M475.37,214.03h2.5M889.37,214.03h-2.5M475.37,191.91h2.5M889.37,191.91h-2.5M475.37,180.56h2.5M889.37,180.56h-2.5M475.37,230.77h4.5M889.37,230.77h-4.5M475.37,269.63h2.5M889.37,269.63h-2.5M475.37,247.50h2.5M889.37,247.50h-2.5M475.37,236.16h2.5M889.37,236.16h-2.5" fill="none" stroke="#000" stroke-width="1.25"/>
<g transform="translate(826.37,24.10) scale(1.0,1)"><text text-anchor="end" font-size="13.75">cdm iso</text></g>
<path d="M834.97,19.55H872.97" stroke="#ff0000" stroke-width="1.3" fill="none"/>
<g transform="translate(826.37,38.00) scale(1.0,1)"><text text-anchor="end" font-size="13.75">baryon iso</text></g>
<path d="M834.97,33.45H872.97" stroke="#00ff00" stroke-width="1.3" fill="none" stroke-dasharray="5.8 2.56"/>
<g transform="translate(826.37,51.90) scale(1.0,1)"><text text-anchor="end" font-size="13.75">noise power</text></g>
<path d="M834.97,47.35H872.97" stroke="#0000ff" stroke-width="1.3" fill="none" stroke-dasharray="1.35 2.12"/>
<g transform="translate(512.57,30.85) scale(1.0,1)"><text font-size="17.5">n<tspan dy="4.70" font-size="13.92">iso</tspan><tspan dy="-4.70">=1, z=40</tspan></text></g>
<g transform="translate(489.67,306.00) scale(1.0,1)"><text x="-12.77" y="0" font-size="14.0">10<tspan dy="-7.00" font-size="11.20">-4</tspan></text></g>
<g transform="translate(613.37,306.00) scale(1.0,1)"><text x="-12.77" y="0" font-size="14.0">10<tspan dy="-7.00" font-size="11.20">-3</tspan></text></g>
<g transform="translate(751.37,306.00) scale(1.0,1)"><text x="-12.77" y="0" font-size="14.0">10<tspan dy="-7.00" font-size="11.20">-2</tspan></text></g>
<g transform="translate(875.37,306.00) scale(1.0,1)"><text x="-12.77" y="0" font-size="14.0">10<tspan dy="-7.00" font-size="11.20">-1</tspan></text></g>
<g transform="translate(682.37,326.4) scale(1.0,1)"><text x="-36.39" font-size="17.4">k</text><path d="M-27.41,5.22h8.60M-23.11,5.22v-9.19" stroke="#000" stroke-width="0.90" fill="none"/><text x="-18.53" font-size="17.4">[Mpc<tspan dy="-8.70" font-size="13.92">-1</tspan><tspan dy="8.70">]</tspan></text></g>
<clipPath id="c2"><rect x="889.37" y="8.4" width="414.00" height="277.96"/></clipPath>
<g clip-path="url(#c2)" fill="none" stroke-linejoin="round">
<path d="M922.10,181.70L923.10,181.71L924.10,181.72L925.10,181.72L926.10,181.73L927.10,181.74L928.10,181.75L929.10,181.76L930.10,181.76L931.10,181.77L932.10,181.78L933.10,181.79L934.10,181.80L935.10,181.80L936.10,181.81L937.10,181.82L938.10,181.83L939.10,181.83L940.10,181.84L941.10,181.85L942.10,181.86L943.10,181.86L944.10,181.87L945.10,181.88L946.10,181.89L947.10,181.89L948.10,181.90L949.10,181.91L950.10,181.91L951.10,181.92L952.10,181.93L953.10,181.93L954.10,181.94L955.10,181.95L956.10,181.95L957.10,181.96L958.10,181.96L959.10,181.97L960.10,181.98L961.10,181.98L962.10,181.99L963.10,181.99L964.10,182.00L965.10,182.01L966.10,182.01L967.10,182.02L968.10,182.02L969.10,182.03L970.10,182.03L971.10,182.04L972.10,182.04L973.10,182.05L974.10,182.05L975.10,182.06L976.10,182.06L977.10,182.07L978.10,182.07L979.10,182.08L980.10,182.08L981.10,182.09L982.10,182.09L983.10,182.09L984.10,182.10L985.10,182.10L986.10,182.11L987.10,182.11L988.10,182.11L989.10,182.12L990.10,182.12L991.10,182.12L992.10,182.13L993.10,182.13L994.10,182.13L995.10,182.14L996.10,182.14L997.10,182.14L998.10,182.15L999.10,182.15L1000.10,182.15L1001.10,182.15L1002.10,182.16L1003.10,182.16L1004.10,182.16L1005.10,182.16L1006.10,182.16L1007.10,182.16L1008.10,182.17L1009.10,182.17L1010.10,182.17L1011.10,182.17L1012.10,182.17L1013.10,182.17L1014.10,182.17L1015.10,182.18L1016.10,182.18L1017.10,182.18L1018.10,182.18L1019.10,182.18L1020.10,182.18L1021.10,182.18L1022.10,182.18L1023.10,182.19L1024.10,182.19L1025.10,182.19L1026.10,182.19L1027.10,182.19L1028.10,182.19L1029.10,182.20L1030.10,182.20L1031.10,182.20L1032.10,182.20L1033.10,182.21L1034.10,182.21L1035.10,182.21L1036.10,182.21L1037.10,182.22L1038.10,182.22L1039.10,182.23L1040.10,182.24L1041.10,182.25L1042.10,182.26L1043.10,182.28L1044.10,182.29L1045.10,182.31L1046.10,182.33L1047.10,182.34L1048.10,182.36L1049.10,182.38L1050.10,182.41L1051.10,182.43L1052.10,182.45L1053.10,182.48L1054.10,182.51L1055.10,182.53L1056.10,182.56L1057.10,182.59L1058.10,182.62L1059.10,182.65L1060.10,182.68L1061.10,182.71L1062.10,182.74L1063.10,182.77L1064.10,182.81L1065.10,182.84L1066.10,182.87L1067.10,182.91L1068.10,182.94L1069.10,182.98L1070.10,183.01L1071.10,183.05L1072.10,183.08L1073.10,183.12L1074.10,183.15L1075.10,183.20L1076.10,183.24L1077.10,183.28L1078.10,183.33L1079.10,183.38L1080.10,183.43L1081.10,183.48L1082.10,183.54L1083.10,183.59L1084.10,183.65L1085.10,183.71L1086.10,183.77L1087.10,183.83L1088.10,183.89L1089.10,183.95L1090.10,184.01L1091.10,184.08L1092.10,184.14L1093.10,184.21L1094.10,184.28L1095.10,184.35L1096.10,184.42L1097.10,184.49L1098.10,184.56L1099.10,184.64L1100.10,184.72L1101.10,184.79L1102.10,184.87L1103.10,184.96L1104.10,185.04L1105.10,185.12L1106.10,185.21L1107.10,185.30L1108.10,185.39L1109.10,185.48L1110.10,185.57L1111.10,185.66L1112.10,185.76L1113.10,185.86L1114.10,185.96L1115.10,186.06L1116.10,186.16L1117.10,186.26L1118.10,186.37L1119.10,186.48L1120.10,186.59L1121.10,186.70L1122.10,186.81L1123.10,186.93L1124.10,187.04L1125.10,187.16L1126.10,187.28L1127.10,187.40L1128.10,187.53L1129.10,187.65L1130.10,187.78L1131.10,187.91L1132.10,188.04L1133.10,188.18L1134.10,188.31L1135.10,188.45L1136.10,188.59L1137.10,188.73L1138.10,188.87L1139.10,189.02L1140.10,189.17L1141.10,189.32L1142.10,189.47L1143.10,189.62L1144.10,189.78L1145.10,189.94L1146.10,190.10L1147.10,190.26L1148.10,190.43L1149.10,190.59L1150.10,190.77L1151.10,190.94L1152.10,191.12L1153.10,191.30L1154.10,191.48L1155.10,191.67L1156.10,191.86L1157.10,192.05L1158.10,192.25L1159.10,192.45L1160.10,192.66L1161.10,192.87L1162.10,193.08L1163.10,193.30L1164.10,193.52L1165.10,193.75L1166.10,193.98L1167.10,194.22L1168.10,194.46L1169.10,194.70L1170.10,194.95L1171.10,195.21L1172.10,195.47L1173.10,195.73L1174.10,196.00L1175.10,196.28L1176.10,196.56L1177.10,196.85L1178.10,197.15L1179.10,197.45L1180.10,197.75L1181.10,198.07L1182.10,198.39L1183.10,198.71L1184.10,199.05L1185.10,199.40L1186.10,199.75L1187.10,200.11L1188.10,200.49L1189.10,200.87L1190.10,201.27L1191.10,201.68L1192.10,202.09L1193.10,202.53L1194.10,202.97L1195.10,203.43L1196.10,203.90L1197.10,204.39L1198.10,204.89L1199.10,205.40L1200.10,205.94L1201.10,206.48L1202.10,207.05L1203.10,207.63L1204.10,208.23L1205.10,208.85L1206.10,209.48L1207.10,210.14L1208.10,210.81L1209.10,211.51L1210.10,212.22L1211.10,212.96L1212.10,213.72L1213.10,214.50L1214.10,215.30L1215.10,216.12L1216.10,216.97L1217.10,217.84L1218.10,218.73L1219.10,219.65L1220.10,220.58L1221.10,221.54L1222.10,222.51L1223.10,223.51L1224.10,224.52L1225.10,225.56L1226.10,226.62L1227.10,227.69L1228.10,228.79L1229.10,229.89L1230.10,231.01L1231.10,232.13L1232.10,233.25L1233.10,234.36L1234.10,235.45L1235.10,236.53L1236.10,237.59L1237.10,238.61L1238.10,239.60L1239.10,240.55L1240.10,241.46L1241.10,242.32L1242.10,243.12L1243.10,243.86L1244.10,244.55L1245.10,245.19L1246.10,245.79L1247.10,246.34L1248.10,246.86L1249.10,247.35L1250.10,247.81L1251.10,248.24L1252.10,248.66L1253.10,249.06L1254.10,249.45L1255.10,249.84L1256.10,250.22L1257.10,250.61L1258.10,251.00L1259.10,251.40L1260.10,251.82L1261.10,252.25L1262.10,252.71L1263.10,253.20L1264.10,253.72L1265.10,254.28L1266.10,254.87L1267.10,255.52L1268.10,256.21L1269.10,256.96L1270.10,257.76L1271.10,258.63L1272.10,259.57L1273.10,260.59L1274.10,261.68L1275.10,262.85L1276.10,264.08L1277.10,265.35L1278.10,266.64L1279.10,267.93L1280.10,269.21L1281.10,270.44L1282.10,271.64L1283.10,272.79L1284.10,273.89L1285.10,274.95L1286.10,275.97L1287.10,276.94L1288.10,277.86L1289.10,278.74L1290.10,279.56L1291.10,280.34L1292.10,281.07L1293.10,281.75L1294.10,282.39L1295.10,282.99L1296.10,283.57L1297.10,284.14L1298.10,284.71L1299.10,285.28L1300.10,285.86L1300.50,286.10" stroke="#ff0000" stroke-width="1.25"/>
<path d="M922.10,150.50L923.10,150.50L924.10,150.51L925.10,150.51L926.10,150.52L927.10,150.52L928.10,150.52L929.10,150.53L930.10,150.53L931.10,150.54L932.10,150.54L933.10,150.55L934.10,150.55L935.10,150.55L936.10,150.56L937.10,150.56L938.10,150.57L939.10,150.57L940.10,150.58L941.10,150.58L942.10,150.59L943.10,150.59L944.10,150.60L945.10,150.60L946.10,150.61L947.10,150.61L948.10,150.62L949.10,150.62L950.10,150.63L951.10,150.63L952.10,150.64L953.10,150.65L954.10,150.65L955.10,150.66L956.10,150.66L957.10,150.67L958.10,150.67L959.10,150.68L960.10,150.68L961.10,150.69L962.10,150.70L963.10,150.70L964.10,150.71L965.10,150.71L966.10,150.72L967.10,150.72L968.10,150.73L969.10,150.74L970.10,150.74L971.10,150.75L972.10,150.76L973.10,150.76L974.10,150.77L975.10,150.77L976.10,150.78L977.10,150.79L978.10,150.79L979.10,150.80L980.10,150.81L981.10,150.81L982.10,150.82L983.10,150.82L984.10,150.83L985.10,150.84L986.10,150.84L987.10,150.85L988.10,150.86L989.10,150.86L990.10,150.87L991.10,150.88L992.10,150.88L993.10,150.89L994.10,150.90L995.10,150.90L996.10,150.91L997.10,150.92L998.10,150.92L999.10,150.93L1000.10,150.94L1001.10,150.94L1002.10,150.95L1003.10,150.96L1004.10,150.96L1005.10,150.97L1006.10,150.97L1007.10,150.98L1008.10,150.99L1009.10,150.99L1010.10,151.00L1011.10,151.00L1012.10,151.01L1013.10,151.02L1014.10,151.02L1015.10,151.03L1016.10,151.04L1017.10,151.04L1018.10,151.05L1019.10,151.06L1020.10,151.06L1021.10,151.07L1022.10,151.08L1023.10,151.09L1024.10,151.09L1025.10,151.10L1026.10,151.11L1027.10,151.12L1028.10,151.13L1029.10,151.14L1030.10,151.15L1031.10,151.16L1032.10,151.18L1033.10,151.19L1034.10,151.20L1035.10,151.22L1036.10,151.23L1037.10,151.25L1038.10,151.27L1039.10,151.29L1040.10,151.32L1041.10,151.35L1042.10,151.38L1043.10,151.42L1044.10,151.46L1045.10,151.50L1046.10,151.55L1047.10,151.59L1048.10,151.64L1049.10,151.69L1050.10,151.73L1051.10,151.78L1052.10,151.83L1053.10,151.89L1054.10,151.94L1055.10,151.99L1056.10,152.04L1057.10,152.10L1058.10,152.16L1059.10,152.22L1060.10,152.29L1061.10,152.35L1062.10,152.42L1063.10,152.49L1064.10,152.56L1065.10,152.64L1066.10,152.71L1067.10,152.79L1068.10,152.87L1069.10,152.95L1070.10,153.04L1071.10,153.12L1072.10,153.21L1073.10,153.30L1074.10,153.39L1075.10,153.48L1076.10,153.58L1077.10,153.68L1078.10,153.78L1079.10,153.89L1080.10,154.00L1081.10,154.11L1082.10,154.22L1083.10,154.33L1084.10,154.45L1085.10,154.57L1086.10,154.69L1087.10,154.82L1088.10,154.95L1089.10,155.08L1090.10,155.21L1091.10,155.35L1092.10,155.49L1093.10,155.64L1094.10,155.78L1095.10,155.93L1096.10,156.09L1097.10,156.25L1098.10,156.41L1099.10,156.57L1100.10,156.74L1101.10,156.91L1102.10,157.08L1103.10,157.26L1104.10,157.44L1105.10,157.63L1106.10,157.82L1107.10,158.01L1108.10,158.20L1109.10,158.41L1110.10,158.61L1111.10,158.82L1112.10,159.03L1113.10,159.25L1114.10,159.47L1115.10,159.69L1116.10,159.92L1117.10,160.15L1118.10,160.39L1119.10,160.63L1120.10,160.88L1121.10,161.13L1122.10,161.39L1123.10,161.64L1124.10,161.91L1125.10,162.18L1126.10,162.45L1127.10,162.73L1128.10,163.01L1129.10,163.30L1130.10,163.59L1131.10,163.89L1132.10,164.19L1133.10,164.50L1134.10,164.81L1135.10,165.12L1136.10,165.44L1137.10,165.77L1138.10,166.10L1139.10,166.43L1140.10,166.77L1141.10,167.11L1142.10,167.46L1143.10,167.81L1144.10,168.17L1145.10,168.53L1146.10,168.90L1147.10,169.27L1148.10,169.64L1149.10,170.02L1150.10,170.40L1151.10,170.79L1152.10,171.18L1153.10,171.58L1154.10,171.98L1155.10,172.38L1156.10,172.79L1157.10,173.21L1158.10,173.62L1159.10,174.05L1160.10,174.47L1161.10,174.90L1162.10,175.34L1163.10,175.78L1164.10,176.22L1165.10,176.67L1166.10,177.12L1167.10,177.57L1168.10,178.03L1169.10,178.50L1170.10,178.97L1171.10,179.44L1172.10,179.91L1173.10,180.40L1174.10,180.88L1175.10,181.37L1176.10,181.86L1177.10,182.36L1178.10,182.86L1179.10,183.36L1180.10,183.87L1181.10,184.38L1182.10,184.90L1183.10,185.43L1184.10,185.96L1185.10,186.49L1186.10,187.03L1187.10,187.58L1188.10,188.14L1189.10,188.71L1190.10,189.28L1191.10,189.86L1192.10,190.45L1193.10,191.05L1194.10,191.66L1195.10,192.28L1196.10,192.91L1197.10,193.55L1198.10,194.20L1199.10,194.87L1200.10,195.54L1201.10,196.23L1202.10,196.93L1203.10,197.64L1204.10,198.37L1205.10,199.11L1206.10,199.87L1207.10,200.64L1208.10,201.43L1209.10,202.23L1210.10,203.04L1211.10,203.88L1212.10,204.73L1213.10,205.59L1214.10,206.48L1215.10,207.38L1216.10,208.30L1217.10,209.23L1218.10,210.18L1219.10,211.15L1220.10,212.14L1221.10,213.13L1222.10,214.15L1223.10,215.17L1224.10,216.21L1225.10,217.26L1226.10,218.33L1227.10,219.40L1228.10,220.49L1229.10,221.58L1230.10,222.68L1231.10,223.77L1232.10,224.86L1233.10,225.94L1234.10,227.01L1235.10,228.07L1236.10,229.10L1237.10,230.11L1238.10,231.09L1239.10,232.04L1240.10,232.95L1241.10,233.83L1242.10,234.65L1243.10,235.44L1244.10,236.18L1245.10,236.88L1246.10,237.55L1247.10,238.19L1248.10,238.79L1249.10,239.37L1250.10,239.93L1251.10,240.46L1252.10,240.98L1253.10,241.49L1254.10,241.99L1255.10,242.48L1256.10,242.96L1257.10,243.45L1258.10,243.93L1259.10,244.42L1260.10,244.92L1261.10,245.44L1262.10,245.96L1263.10,246.51L1264.10,247.08L1265.10,247.67L1266.10,248.29L1267.10,248.95L1268.10,249.65L1269.10,250.40L1270.10,251.19L1271.10,252.04L1272.10,252.95L1273.10,253.93L1274.10,254.98L1275.10,256.09L1276.10,257.27L1277.10,258.49L1278.10,259.74L1279.10,261.00L1280.10,262.26L1281.10,263.50L1282.10,264.72L1283.10,265.92L1284.10,267.09L1285.10,268.23L1286.10,269.34L1287.10,270.41L1288.10,271.45L1289.10,272.44L1290.10,273.40L1291.10,274.31L1292.10,275.18L1293.10,275.99L1294.10,276.76L1295.10,277.47L1296.10,278.12L1297.10,278.72L1298.10,279.25L1299.10,279.72L1300.10,280.12L1300.60,280.30" stroke="#00ff00" stroke-width="1.25" stroke-dasharray="5.8 2.56"/>
<path d="M921.97,127.26L922.97,127.26L923.97,127.26L924.97,127.26L925.97,127.26L926.97,127.26L927.97,127.26L928.97,127.26L929.97,127.26L930.97,127.26L931.97,127.26L932.97,127.26L933.97,127.26L934.97,127.26L935.97,127.26L936.97,127.26L937.97,127.26L938.97,127.26L939.97,127.26L940.97,127.26L941.97,127.26L942.97,127.26L943.97,127.26L944.97,127.26L945.97,127.26L946.97,127.26L947.97,127.26L948.97,127.26L949.97,127.26L950.97,127.26L951.97,127.26L952.97,127.26L953.97,127.26L954.97,127.26L955.97,127.26L956.97,127.26L957.97,127.26L958.97,127.26L959.97,127.26L960.97,127.26L961.97,127.26L962.97,127.26L963.97,127.26L964.97,127.26L965.97,127.26L966.97,127.26L967.97,127.26L968.97,127.26L969.97,127.26L970.97,127.26L971.97,127.26L972.97,127.26L973.97,127.26L974.97,127.26L975.97,127.26L976.97,127.26L977.97,127.26L978.97,127.26L979.97,127.26L980.97,127.26L981.97,127.26L982.97,127.26L983.97,127.26L984.97,127.26L985.97,127.26L986.97,127.26L987.97,127.26L988.97,127.26L989.97,127.26L990.97,127.26L991.97,127.26L992.97,127.26L993.97,127.26L994.97,127.26L995.97,127.26L996.97,127.26L997.97,127.26L998.97,127.26L999.97,127.26L1000.97,127.26L1001.97,127.26L1002.97,127.26L1003.97,127.26L1004.97,127.26L1005.97,127.26L1006.97,127.25L1007.97,127.25L1008.97,127.25L1009.97,127.25L1010.97,127.25L1011.97,127.25L1012.97,127.25L1013.97,127.25L1014.97,127.25L1015.97,127.25L1016.97,127.25L1017.97,127.25L1018.97,127.25L1019.97,127.25L1020.97,127.25L1021.97,127.25L1022.97,127.25L1023.97,127.25L1024.97,127.25L1025.97,127.25L1026.97,127.25L1027.97,127.25L1028.97,127.25L1029.97,127.25L1030.97,127.25L1031.97,127.25L1032.97,127.25L1033.97,127.25L1034.97,127.24L1035.97,127.24L1036.97,127.24L1037.97,127.24L1038.97,127.24L1039.97,127.24L1040.97,127.24L1041.97,127.24L1042.97,127.24L1043.97,127.24L1044.97,127.24L1045.97,127.24L1046.97,127.24L1047.97,127.24L1048.97,127.23L1049.97,127.23L1050.97,127.23L1051.97,127.23L1052.97,127.23L1053.97,127.23L1054.97,127.23L1055.97,127.23L1056.97,127.23L1057.97,127.22L1058.97,127.22L1059.97,127.22L1060.97,127.22L1061.97,127.22L1062.97,127.22L1063.97,127.22L1064.97,127.22L1065.97,127.21L1066.97,127.21L1067.97,127.21L1068.97,127.21L1069.97,127.21L1070.97,127.20L1071.97,127.20L1072.97,127.20L1073.97,127.20L1074.97,127.20L1075.97,127.19L1076.97,127.19L1077.97,127.19L1078.97,127.19L1079.97,127.19L1080.97,127.18L1081.97,127.18L1082.97,127.18L1083.97,127.17L1084.97,127.17L1085.97,127.17L1086.97,127.16L1087.97,127.16L1088.97,127.16L1089.97,127.15L1090.97,127.15L1091.97,127.15L1092.97,127.14L1093.97,127.14L1094.97,127.14L1095.97,127.13L1096.97,127.13L1097.97,127.12L1098.97,127.12L1099.97,127.11L1100.97,127.11L1101.97,127.10L1102.97,127.10L1103.97,127.09L1104.97,127.09L1105.97,127.08L1106.97,127.07L1107.97,127.07L1108.97,127.06L1109.97,127.05L1110.97,127.05L1111.97,127.04L1112.97,127.03L1113.97,127.02L1114.97,127.02L1115.97,127.01L1116.97,127.00L1117.97,126.99L1118.97,126.98L1119.97,126.97L1120.97,126.96L1121.97,126.95L1122.97,126.94L1123.97,126.93L1124.97,126.92L1125.97,126.91L1126.97,126.89L1127.97,126.88L1128.97,126.87L1129.97,126.86L1130.97,126.84L1131.97,126.83L1132.97,126.81L1133.97,126.80L1134.97,126.78L1135.97,126.77L1136.97,126.75L1137.97,126.73L1138.97,126.71L1139.97,126.69L1140.97,126.68L1141.97,126.66L1142.97,126.63L1143.97,126.61L1144.97,126.59L1145.97,126.57L1146.97,126.55L1147.97,126.52L1148.97,126.50L1149.97,126.47L1150.97,126.44L1151.97,126.41L1152.97,126.39L1153.97,126.36L1154.97,126.33L1155.97,126.29L1156.97,126.26L1157.97,126.23L1158.97,126.19L1159.97,126.16L1160.97,126.12L1161.97,126.08L1162.97,126.04L1163.97,126.00L1164.97,125.96L1165.97,125.91L1166.97,125.86L1167.97,125.82L1168.97,125.77L1169.97,125.72L1170.97,125.67L1171.97,125.61L1172.97,125.56L1173.97,125.50L1174.97,125.44L1175.97,125.38L1176.97,125.31L1177.97,125.25L1178.97,125.18L1179.97,125.11L1180.97,125.03L1181.97,124.96L1182.97,124.88L1183.97,124.80L1184.97,124.71L1185.97,124.63L1186.97,124.54L1187.97,124.45L1188.97,124.35L1189.97,124.25L1190.97,124.15L1191.97,124.04L1192.97,123.94L1193.97,123.82L1194.97,123.71L1195.97,123.59L1196.97,123.46L1197.97,123.33L1198.97,123.20L1199.97,123.06L1200.97,122.92L1201.97,122.77L1202.97,122.62L1203.97,122.46L1204.97,122.30L1205.97,122.13L1206.97,121.95L1207.97,121.77L1208.97,121.59L1209.97,121.40L1210.97,121.20L1211.97,120.99L1212.97,120.78L1213.97,120.56L1214.97,120.33L1215.97,120.10L1216.97,119.85L1217.97,119.60L1218.97,119.34L1219.97,119.07L1220.97,118.79L1221.97,118.51L1222.97,118.21L1223.97,117.90L1224.97,117.59L1225.97,117.26L1226.97,116.92L1227.97,116.57L1228.97,116.20L1229.97,115.83L1230.97,115.44L1231.97,115.04L1232.97,114.62L1233.97,114.20L1234.97,113.75L1235.97,113.29L1236.97,112.82L1237.97,112.33L1238.97,111.82L1239.97,111.30L1240.97,110.76L1241.97,110.20L1242.97,109.62L1243.97,109.02L1244.97,108.40L1245.97,107.76L1246.97,107.10L1247.97,106.41L1248.97,105.71L1249.97,104.98L1250.97,104.22L1251.97,103.44L1252.97,102.63L1253.97,101.79L1254.97,100.93L1255.97,100.04L1256.97,99.11L1257.97,98.16L1258.97,97.17L1259.97,96.15L1260.97,95.09L1261.97,94.00L1262.97,92.87L1263.97,91.70L1264.97,90.50L1265.97,89.25L1266.97,87.96L1267.97,86.63L1268.97,85.25L1269.97,83.82L1270.97,82.35L1271.97,80.82L1272.97,79.25L1273.97,77.62L1274.97,75.93L1275.97,74.19L1276.97,72.39L1277.97,70.53L1278.97,68.60L1279.97,66.61L1280.97,64.56L1281.97,62.43L1282.97,60.23L1283.97,57.95L1284.97,55.60L1285.97,53.17L1286.97,50.66L1287.97,48.06L1288.97,45.37L1289.97,42.59L1290.97,39.72L1291.97,36.75L1292.97,33.67L1293.97,30.50L1294.97,27.22L1295.97,23.82L1296.97,20.31L1297.97,16.68L1298.97,12.93L1299.97,9.05L1300.13,8.40" stroke="#0000ff" stroke-width="1.3" stroke-dasharray="1.35 2.12"/>
</g>
<path d="M889.37,8.40H1303.37V286.36H889.37ZM930.91,286.36v-2.5M930.91,8.40v2.5M955.21,286.36v-2.5M955.21,8.40v2.5M972.45,286.36v-2.5M972.45,8.40v2.5M985.83,286.36v-2.5M985.83,8.40v2.5M996.75,286.36v-2.5M996.75,8.40v2.5M1005.99,286.36v-2.5M1005.99,8.40v2.5M1014.00,286.36v-2.5M1014.00,8.40v2.5M1021.06,286.36v-2.5M1021.06,8.40v2.5M1027.37,286.36v-4.5M1027.37,8.40v4.5M1068.91,286.36v-2.5M1068.91,8.40v2.5M1093.21,286.36v-2.5M1093.21,8.40v2.5M1110.45,286.36v-2.5M1110.45,8.40v2.5M1123.83,286.36v-2.5M1123.83,8.40v2.5M1134.75,286.36v-2.5M1134.75,8.40v2.5M1143.99,286.36v-2.5M1143.99,8.40v2.5M1152.00,286.36v-2.5M1152.00,8.40v2.5M1159.06,286.36v-2.5M1159.06,8.40v2.5M1165.37,286.36v-4.5M1165.37,8.40v4.5M1206.91,286.36v-2.5M1206.91,8.40v2.5M1231.21,286.36v-2.5M1231.21,8.40v2.5M1248.45,286.36v-2.5M1248.45,8.40v2.5M1261.83,286.36v-2.5M1261.83,8.40v2.5M1272.75,286.36v-2.5M1272.75,8.40v2.5M1281.99,286.36v-2.5M1281.99,8.40v2.5M1290.00,286.36v-2.5M1290.00,8.40v2.5M1297.06,286.36v-2.5M1297.06,8.40v2.5M889.37,47.26h2.5M1303.37,47.26h-2.5M889.37,25.13h2.5M1303.37,25.13h-2.5M889.37,13.79h2.5M1303.37,13.79h-2.5M889.37,63.99h4.5M1303.37,63.99h-4.5M889.37,102.85h2.5M1303.37,102.85h-2.5M889.37,80.73h2.5M1303.37,80.73h-2.5M889.37,69.38h2.5M1303.37,69.38h-2.5M889.37,119.58h4.5M1303.37,119.58h-4.5M889.37,158.44h2.5M1303.37,158.44h-2.5M889.37,136.32h2.5M1303.37,136.32h-2.5M889.37,124.97h2.5M1303.37,124.97h-2.5M889.37,175.18h4.5M1303.37,175.18h-4.5M889.37,214.03h2.5M1303.37,214.03h-2.5M889.37,191.91h2.5M1303.37,191.91h-2.5M889.37,180.56h2.5M1303.37,180.56h-2.5M889.37,230.77h4.5M1303.37,230.77h-4.5M889.37,269.63h2.5M1303.37,269.63h-2.5M889.37,247.50h2.5M1303.37,247.50h-2.5M889.37,236.16h2.5M1303.37,236.16h-2.5" fill="none" stroke="#000" stroke-width="1.25"/>
<g transform="translate(1240.37,24.10) scale(1.0,1)"><text text-anchor="end" font-size="13.75">cdm iso</text></g>
<path d="M1248.97,19.55H1286.97" stroke="#ff0000" stroke-width="1.3" fill="none"/>
<g transform="translate(1240.37,38.00) scale(1.0,1)"><text text-anchor="end" font-size="13.75">baryon iso</text></g>
<path d="M1248.97,33.45H1286.97" stroke="#00ff00" stroke-width="1.3" fill="none" stroke-dasharray="5.8 2.56"/>
<g transform="translate(1240.37,51.90) scale(1.0,1)"><text text-anchor="end" font-size="13.75">noise power</text></g>
<path d="M1248.97,47.35H1286.97" stroke="#0000ff" stroke-width="1.3" fill="none" stroke-dasharray="1.35 2.12"/>
<g transform="translate(926.57,30.85) scale(1.0,1)"><text font-size="17.5">n<tspan dy="4.70" font-size="13.92">iso</tspan><tspan dy="-4.70">=1, z=40</tspan></text></g>
<g transform="translate(903.67,306.00) scale(1.0,1)"><text x="-12.77" y="0" font-size="14.0">10<tspan dy="-7.00" font-size="11.20">-4</tspan></text></g>
<g transform="translate(1027.37,306.00) scale(1.0,1)"><text x="-12.77" y="0" font-size="14.0">10<tspan dy="-7.00" font-size="11.20">-3</tspan></text></g>
<g transform="translate(1165.37,306.00) scale(1.0,1)"><text x="-12.77" y="0" font-size="14.0">10<tspan dy="-7.00" font-size="11.20">-2</tspan></text></g>
<g transform="translate(1289.37,306.00) scale(1.0,1)"><text x="-12.77" y="0" font-size="14.0">10<tspan dy="-7.00" font-size="11.20">-1</tspan></text></g>
<g transform="translate(1096.37,326.4) scale(1.0,1)"><text x="-36.39" font-size="17.4">k</text><path d="M-27.41,5.22h8.60M-23.11,5.22v-9.19" stroke="#000" stroke-width="0.90" fill="none"/><text x="-18.53" font-size="17.4">[Mpc<tspan dy="-8.70" font-size="13.92">-1</tspan><tspan dy="8.70">]</tspan></text></g>
<g transform="translate(53.20,14.25) scale(1.0,1)"><text x="-25.53" y="0" font-size="14.0">10<tspan dy="-7.00" font-size="11.20">-3</tspan></text></g>
<g transform="translate(1314.10,14.25) scale(1.0,1)"><text x="0.00" y="0" font-size="14.0">10<tspan dy="-7.00" font-size="11.20">-3</tspan></text></g>
<g transform="translate(53.20,69.84) scale(1.0,1)"><text x="-25.53" y="0" font-size="14.0">10<tspan dy="-7.00" font-size="11.20">-4</tspan></text></g>
<g transform="translate(1314.10,69.84) scale(1.0,1)"><text x="0.00" y="0" font-size="14.0">10<tspan dy="-7.00" font-size="11.20">-4</tspan></text></g>
<g transform="translate(53.20,125.43) scale(1.0,1)"><text x="-25.53" y="0" font-size="14.0">10<tspan dy="-7.00" font-size="11.20">-5</tspan></text></g>
<g transform="translate(1314.10,125.43) scale(1.0,1)"><text x="0.00" y="0" font-size="14.0">10<tspan dy="-7.00" font-size="11.20">-5</tspan></text></g>
<g transform="translate(53.20,181.03) scale(1.0,1)"><text x="-25.53" y="0" font-size="14.0">10<tspan dy="-7.00" font-size="11.20">-6</tspan></text></g>
<g transform="translate(1314.10,181.03) scale(1.0,1)"><text x="0.00" y="0" font-size="14.0">10<tspan dy="-7.00" font-size="11.20">-6</tspan></text></g>
<g transform="translate(53.20,236.62) scale(1.0,1)"><text x="-25.53" y="0" font-size="14.0">10<tspan dy="-7.00" font-size="11.20">-7</tspan></text></g>
<g transform="translate(1314.10,236.62) scale(1.0,1)"><text x="0.00" y="0" font-size="14.0">10<tspan dy="-7.00" font-size="11.20">-7</tspan></text></g>
<g transform="translate(53.20,292.21) scale(1.0,1)"><text x="-25.53" y="0" font-size="14.0">10<tspan dy="-7.00" font-size="11.20">-8</tspan></text></g>
<g transform="translate(1314.10,292.21) scale(1.0,1)"><text x="0.00" y="0" font-size="14.0">10<tspan dy="-7.00" font-size="11.20">-8</tspan></text></g>
<g transform="translate(18.7,249.2) scale(1.05,1) rotate(-90)"><text x="0.00" font-size="17.38">P(u</text><path d="M27.84,-4.9V5.0M31.79,-4.9V5.0" stroke="#000" stroke-width="1.25" fill="none"/><text x="34.09" font-size="17.38">(k</text><path d="M50.17,-4.9V5.0M54.12,-4.9V5.0" stroke="#000" stroke-width="1.25" fill="none"/><text x="55.62" font-size="17.38">),u</text><path d="M76.18,4.60h8.59M80.48,4.60v-9.18" stroke="#000" stroke-width="0.90" fill="none"/><text x="85.05" font-size="17.38">(k</text><path d="M99.81,4.60h8.59M104.10,4.60v-9.18" stroke="#000" stroke-width="0.90" fill="none"/><text x="108.68" font-size="17.38">))[mK</text><text x="151.16" y="-8.20" font-size="13.90">2</text><text x="163.72" font-size="17.38">MHz]</text></g>
<g fill="#fff" stroke="none"><rect x="137.00" y="29.00" width="3.50" height="3.00"/><rect x="142.45" y="29.00" width="3.55" height="3.00"/><rect x="49.00" y="304.00" width="3.41" height="3.00"/><rect x="54.06" y="304.00" width="2.94" height="3.00"/><rect x="187.00" y="304.00" width="2.91" height="3.00"/><rect x="191.56" y="304.00" width="2.44" height="3.00"/><rect x="325.00" y="304.00" width="2.91" height="3.00"/><rect x="329.56" y="304.00" width="2.44" height="3.00"/><rect x="449.00" y="304.00" width="2.91" height="3.00"/><rect x="453.56" y="304.00" width="2.44" height="3.00"/><rect x="468.00" y="297.00" width="2.51" height="3.00"/><rect x="471.90" y="297.00" width="2.10" height="3.00"/><rect x="292.00" y="316.00" width="3.45" height="2.00"/><rect x="297.09" y="316.00" width="2.91" height="2.00"/><rect x="551.00" y="29.00" width="3.50" height="3.00"/><rect x="556.45" y="29.00" width="3.55" height="3.00"/><rect x="477.00" y="304.00" width="3.21" height="3.00"/><rect x="481.86" y="304.00" width="3.14" height="3.00"/><rect x="601.00" y="304.00" width="2.91" height="3.00"/><rect x="605.56" y="304.00" width="2.44" height="3.00"/><rect x="739.00" y="304.00" width="2.91" height="3.00"/><rect x="743.56" y="304.00" width="2.44" height="3.00"/><rect x="863.00" y="304.00" width="2.91" height="3.00"/><rect x="867.56" y="304.00" width="2.44" height="3.00"/><rect x="882.00" y="297.00" width="2.51" height="3.00"/><rect x="885.90" y="297.00" width="2.10" height="3.00"/><rect x="706.00" y="316.00" width="3.45" height="2.00"/><rect x="711.09" y="316.00" width="2.91" height="2.00"/><rect x="965.00" y="29.00" width="3.50" height="3.00"/><rect x="970.45" y="29.00" width="3.55" height="3.00"/><rect x="891.00" y="304.00" width="3.21" height="3.00"/><rect x="895.86" y="304.00" width="3.14" height="3.00"/><rect x="1015.00" y="304.00" width="2.91" height="3.00"/><rect x="1019.56" y="304.00" width="2.44" height="3.00"/><rect x="1153.00" y="304.00" width="2.91" height="3.00"/><rect x="1157.56" y="304.00" width="2.44" height="3.00"/><rect x="1277.00" y="304.00" width="2.91" height="3.00"/><rect x="1281.56" y="304.00" width="2.44" height="3.00"/><rect x="1296.00" y="297.00" width="2.51" height="3.00"/><rect x="1299.90" y="297.00" width="2.10" height="3.00"/><rect x="1120.00" y="316.00" width="3.45" height="2.00"/><rect x="1125.09" y="316.00" width="2.91" height="2.00"/><rect x="28.00" y="12.00" width="2.98" height="3.00"/><rect x="32.63" y="12.00" width="2.37" height="3.00"/><rect x="1314.00" y="12.00" width="3.41" height="3.00"/><rect x="1319.06" y="12.00" width="2.94" height="3.00"/><rect x="28.00" y="68.00" width="2.98" height="3.00"/><rect x="32.63" y="68.00" width="2.37" height="3.00"/><rect x="1314.00" y="68.00" width="3.41" height="3.00"/><rect x="1319.06" y="68.00" width="2.94" height="3.00"/><rect x="28.00" y="124.00" width="2.98" height="2.00"/><rect x="32.63" y="124.00" width="2.37" height="2.00"/><rect x="1314.00" y="124.00" width="3.41" height="2.00"/><rect x="1319.06" y="124.00" width="2.94" height="2.00"/><rect x="28.00" y="179.00" width="2.98" height="3.00"/><rect x="32.63" y="179.00" width="2.37" height="3.00"/><rect x="1314.00" y="179.00" width="3.41" height="3.00"/><rect x="1319.06" y="179.00" width="2.94" height="3.00"/><rect x="28.00" y="235.00" width="2.98" height="2.00"/><rect x="32.63" y="235.00" width="2.37" height="2.00"/><rect x="1314.00" y="235.00" width="3.41" height="2.00"/><rect x="1319.06" y="235.00" width="2.94" height="2.00"/><rect x="28.00" y="290.00" width="2.98" height="3.00"/><rect x="32.63" y="290.00" width="2.37" height="3.00"/><rect x="1314.00" y="290.00" width="3.41" height="3.00"/><rect x="1319.06" y="290.00" width="2.94" height="3.00"/></g>
</svg></body></html>
